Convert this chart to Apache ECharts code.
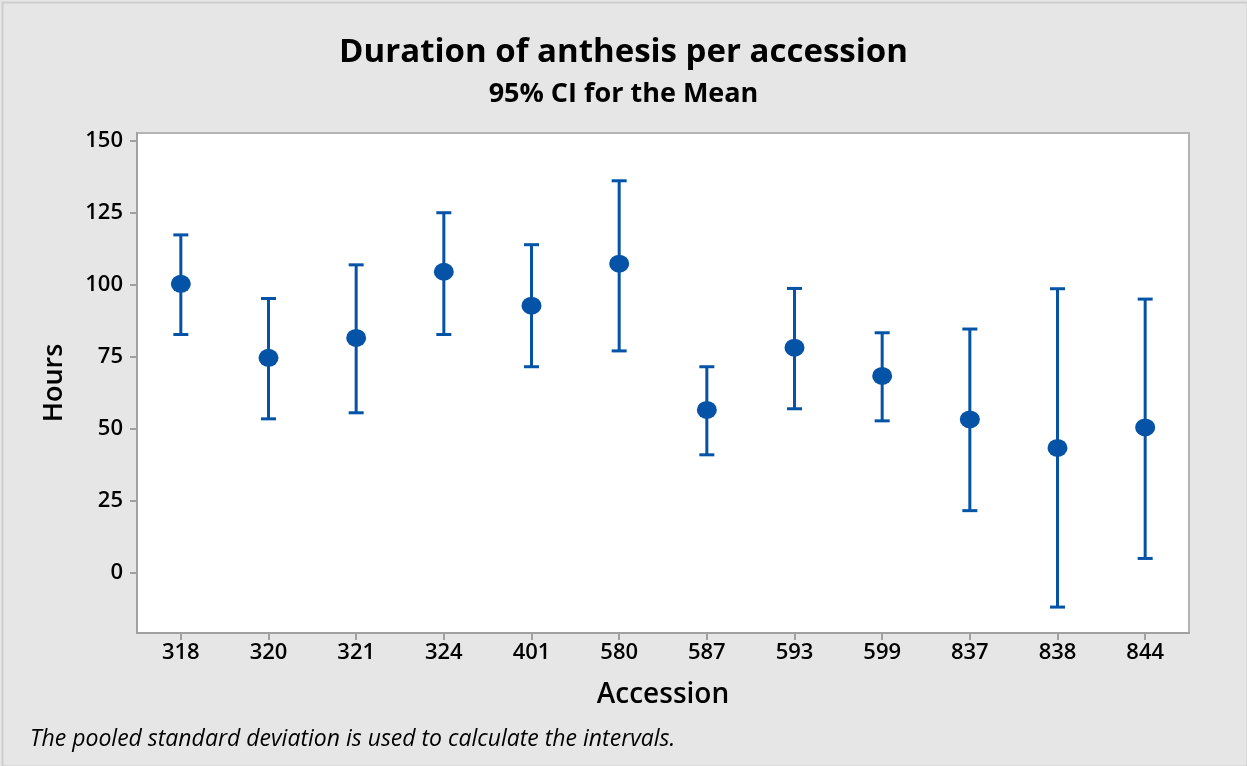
<!DOCTYPE html>
<html>
<head>
<meta charset="utf-8">
<script src="https://cdn.jsdelivr.net/npm/echarts@6/dist/echarts.min.js"></script>
<style>
html,body{margin:0;padding:0;background:#e6e6e6;}
#chart{width:1247px;height:766px;}
</style>
</head>
<body>
<div id="chart"></div>
<script>
const categories = ['318','320','321','324','401','580','587','593','599','837','838','844'];
const means = [100.3, 74.6, 81.5, 104.5, 92.7, 107.3, 56.5, 78.1, 68.3, 53.2, 43.3, 50.4];
const lower = [82.7, 53.4, 55.5, 82.7, 71.5, 77.0, 40.9, 56.9, 52.7, 21.5, -12.0, 4.9];
const upper = [117.3, 95.2, 106.9, 125.0, 113.9, 136.1, 71.5, 98.7, 83.3, 84.6, 98.6, 95.0];
const yTicks = [0, 25, 50, 75, 100, 125, 150];

const FONT = '"Open Sans", "DejaVu Sans", sans-serif';
const BLUE = '#0453a6';
const AXIS = '#a0a0a0';

const chart = echarts.init(document.getElementById('chart'), null, {renderer: 'canvas'});

const barData = categories.map((c, i) => [i, lower[i], upper[i]]);

chart.setOption({
  backgroundColor: '#e6e6e6',
  animation: false,
  graphic: [
    {type: 'rect', left: 0, top: 0, shape: {x: 1, y: 1, width: 1245, height: 764},
     style: {fill: null, stroke: '#cdcdcd', lineWidth: 2}, silent: true, z: -1}
  ],
  title: [
    {text: 'Duration of anthesis per accession', left: 'center', top: 31,
     textStyle: {fontFamily: FONT, fontWeight: 'bold', fontSize: 33, color: '#000'}},
    {text: '95% CI for the Mean', left: 'center', top: 76,
     textStyle: {fontFamily: FONT, fontWeight: 'bold', fontSize: 27, color: '#000'}},
    {text: 'The pooled standard deviation is used to calculate the intervals.', left: 25, top: 723,
     textStyle: {fontFamily: FONT, fontStyle: 'italic', fontWeight: 'normal', fontSize: 23, color: '#000'}}
  ],
  grid: {left: 137, right: 58, top: 133, bottom: 133, show: true, backgroundColor: '#ffffff',
         borderWidth: 2, borderColor: '#b4b4b4'},
  xAxis: {
    type: 'category',
    data: categories,
    boundaryGap: true,
    name: 'Accession',
    nameLocation: 'middle',
    nameGap: 48,
    nameTextStyle: {fontFamily: FONT, fontWeight: 600, fontSize: 28, color: '#000'},
    axisLine: {show: true, onZero: false, lineStyle: {color: AXIS, width: 2}},
    axisTick: {show: true, alignWithLabel: true, length: 7, lineStyle: {color: AXIS, width: 2}},
    axisLabel: {fontFamily: FONT, fontWeight: 600, fontSize: 22, color: '#000', margin: 9},
    splitLine: {show: false}
  },
  yAxis: {
    type: 'value',
    min: -21,
    max: 152.7,
    name: 'Hours',
    nameLocation: 'middle',
    nameGap: 69,
    nameRotate: 90,
    nameTextStyle: {fontFamily: FONT, fontWeight: 600, fontSize: 27, color: '#000'},
    axisLine: {show: true, onZero: false, lineStyle: {color: AXIS, width: 2}},
    axisTick: {show: true, length: 7, customValues: yTicks, lineStyle: {color: AXIS, width: 2}},
    axisLabel: {fontFamily: FONT, fontWeight: 600, fontSize: 22, color: '#000', margin: 14, customValues: yTicks},
    splitLine: {show: false}
  },
  series: [
    {
      type: 'custom',
      data: barData,
      renderItem: function (params, api) {
        const x = api.value(0);
        const lo = api.coord([x, api.value(1)]);
        const hi = api.coord([x, api.value(2)]);
        const half = 7.5;
        const style = {stroke: BLUE, lineWidth: 3, fill: null};
        return {
          type: 'group',
          children: [
            {type: 'line', shape: {x1: lo[0], y1: lo[1], x2: hi[0], y2: hi[1]}, style: style},
            {type: 'line', shape: {x1: hi[0] - half, y1: hi[1], x2: hi[0] + half, y2: hi[1]}, style: style},
            {type: 'line', shape: {x1: lo[0] - half, y1: lo[1], x2: lo[0] + half, y2: lo[1]}, style: style}
          ]
        };
      },
      z: 2
    },
    {
      type: 'scatter',
      data: means,
      symbol: 'circle',
      symbolSize: [20, 18],
      itemStyle: {color: BLUE, opacity: 1},
      z: 3
    }
  ]
});
</script>
</body>
</html>
